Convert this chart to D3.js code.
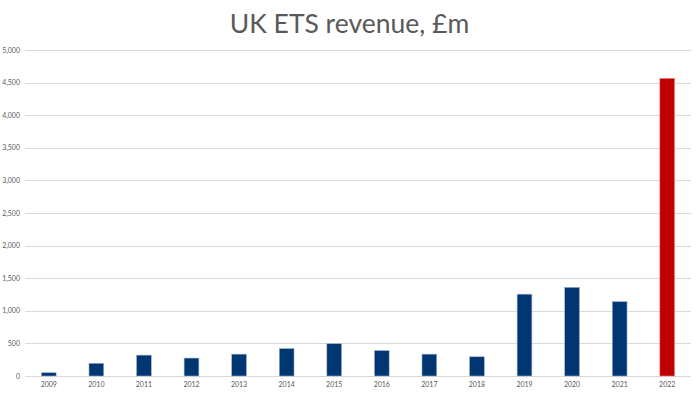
<!DOCTYPE html>
<html>
<head>
<meta charset="utf-8">
<script src="https://cdn.jsdelivr.net/npm/d3@7"></script>
<style>
  html, body { margin: 0; padding: 0; background: #fff; }
  svg { display: block; font-family: Lato, "Open Sans", sans-serif; }
</style>
</head>
<body>
<svg id="chart" width="699" height="393"></svg>
<script>
// data
const years = ["2009","2010","2011","2012","2013","2014","2015","2016","2017","2018","2019","2020","2021","2022"]
const revenue = [50, 195, 320, 275, 335, 420, 495, 390, 335, 295, 1255, 1360, 1140, 4565]
const yTicks = [0, 500, 1000, 1500, 2000, 2500, 3000, 3500, 4000, 4500, 5000]
const highlightYear = "2022"

const W = 699, H = 393
const margin = { top: 50, right: 8, bottom: 17, left: 25 }

const svg = d3.select("#chart")

const x = d3.scaleBand()
    .domain(years)
    .range([margin.left, W - margin.right])
    .paddingInner(0.69)
    .paddingOuter(0.345)

const y = d3.scaleLinear()
    .domain([0, 5000])
    .range([H - margin.bottom, margin.top])

// gridlines
svg.append("g")
    .selectAll("line")
    .data(yTicks)
    .join("line")
    .attr("x1", margin.left).attr("x2", W - margin.right)
    .attr("y1", d => Math.round(y(d)) + 0.5).attr("y2", d => Math.round(y(d)) + 0.5)
    .attr("stroke", "#d9d9d9")
    .attr("stroke-width", 1)

// y tick labels
svg.append("g")
    .selectAll("text")
    .data(yTicks)
    .join("text")
    .attr("x", 20)
    .attr("y", d => y(d) + 2.5)
    .attr("text-anchor", "end")
    .attr("font-size", 7)
    .attr("fill", "#595959")
    .text(d => d3.format(",")(d))

// bars
svg.append("g")
    .selectAll("rect")
    .data(years.map((yr, i) => ({ yr, v: revenue[i] })))
    .join("rect")
    .attr("x", d => x(d.yr))
    .attr("y", d => y(d.v))
    .attr("width", x.bandwidth())
    .attr("height", d => y(0) - y(d.v))
    .attr("fill", d => d.yr === highlightYear ? "#c00000" : "#003671")
    .attr("stroke", d => d.yr === highlightYear ? "#e58a8a" : "#9fb3cc")
    .attr("stroke-width", 0.6)

// x labels
svg.append("g")
    .selectAll("text")
    .data(years)
    .join("text")
    .attr("x", d => x(d) + x.bandwidth() / 2)
    .attr("y", H - 6)
    .attr("text-anchor", "middle")
    .attr("font-size", 7)
    .attr("fill", "#595959")
    .text(d => d)

// title
svg.append("text")
    .attr("x", W / 2)
    .attr("y", 33)
    .attr("text-anchor", "middle")
    .attr("font-size", 26.5)
    .attr("fill", "#595959")
    .text("UK ETS revenue, £m")
</script>
</body>
</html>
